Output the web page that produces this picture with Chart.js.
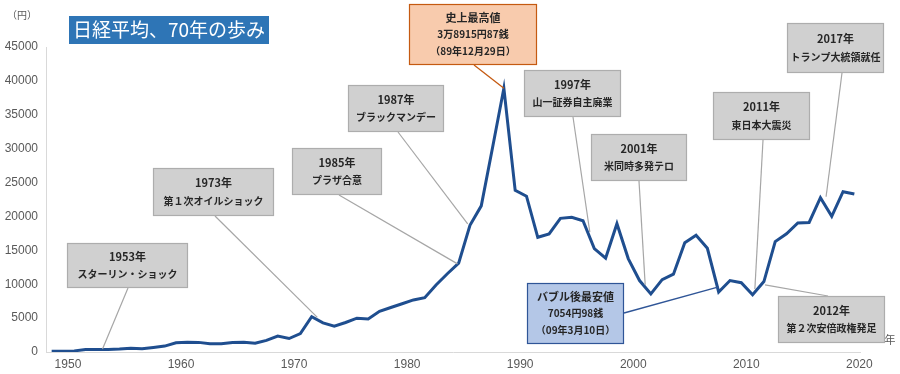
<!DOCTYPE html>
<html>
<head>
<meta charset="utf-8">
<script src="https://cdn.jsdelivr.net/npm/chart.js@4.4.0/dist/chart.umd.min.js"></script>
<style>
  html, body { margin: 0; padding: 0; background: #fff; }
  #wrap { width: 900px; height: 374px; }
</style>
</head>
<body>
<div id="wrap"><canvas id="myChart" width="900" height="374"></canvas></div>
<script>
// 年末終値（円）
var years = []
for (var yr = 1949; yr <= 2020; yr++) years.push(yr)

var nikkei = [
  109, 102, 166, 362, 377, 356, 425, 549, 474, 666,
  874, 1356, 1432, 1420, 1225, 1216, 1417, 1430, 1283, 1714,
  2358, 1987, 2713, 5207, 4306, 3817, 4358, 4990, 4865, 6001,
  6569, 7116, 7681, 8016, 9893, 11542, 13113, 18701, 21564, 30159,
  38915, 23848, 22983, 16924, 17417, 19723, 19868, 19361, 15258, 13842,
  18934, 13785, 10542, 8578, 10676, 11488, 16111, 17225, 15307, 8859,
  10546, 10228, 8455, 10395, 16291, 17450, 19033, 19114, 22764, 20014,
  23656, 23300
]

var xTicks = [1950, 1960, 1970, 1980, 1990, 2000, 2010, 2020]
var yTicks = [0, 5000, 10000, 15000, 20000, 25000, 30000, 35000, 40000, 45000]

var titleText = '日経平均、70年の歩み'

// 吹き出し: 文字, 箱(x,y,w,h), 引き出し線の始点, 指す先(年, 円)
var callouts = [
  { lines: ['1953年', 'スターリン・ショック'], box: [67, 243, 121, 45], from: [128, 288], at: [1953.5, 450] },
  { lines: ['1973年', '第１次オイルショック'], box: [153, 168, 121, 48], from: [215, 216], at: [1972.5, 5100] },
  { lines: ['1985年', 'プラザ合意'], box: [292, 148, 90, 47], from: [339, 195], at: [1984.9, 13000] },
  { lines: ['1987年', 'ブラックマンデー'], box: [348, 85, 96, 47], from: [398, 132], at: [1985.8, 18900] },
  { lines: ['1997年', '山一証券自主廃業'], box: [524, 70, 97, 47], from: [573, 117], at: [1996.6, 17700] },
  { lines: ['2001年', '米同時多発テロ'], box: [591, 134, 96, 47], from: [639, 181], at: [2001.5, 9900] },
  { lines: ['2011年', '東日本大震災'], box: [713, 92, 97, 48], from: [763, 140], at: [2011.2, 9300] },
  { lines: ['2017年', 'トランプ大統領就任'], box: [787, 23, 97, 50], from: [842, 73], at: [2017.5, 22900] },
  { lines: ['2012年', '第２次安倍政権発足'], box: [778, 296, 107, 47], from: [828, 296], at: [2012.1, 9900] },
  { lines: ['史上最高値', '3万8915円87銭', '（89年12月29日）'], box: [409, 4, 128, 61], from: [474, 65], at: [1989, 38915],
    fill: '#F8CBAD', stroke: '#C55A11', leader: '#C55A11' },
  { lines: ['バブル後最安値', '7054円98銭', '（09年3月10日）'], box: [527, 283, 97, 61], from: [624, 313], at: [2008, 9600],
    fill: '#B4C7E7', stroke: '#2F5597', leader: '#2F5597' }
]

var jp = '"Noto Sans CJK JP", "Noto Sans", sans-serif'

var decorations = {
  id: 'decorations',
  afterDatasetsDraw: function (chart) {
    var ctx = chart.ctx
    var xs = chart.scales.x
    var ys = chart.scales.y
    ctx.save()

    // title
    ctx.fillStyle = '#2E75B6'
    ctx.fillRect(69, 16, 200, 28)
    ctx.fillStyle = '#fff'
    ctx.font = '19px ' + jp
    ctx.textBaseline = 'middle'
    ctx.textAlign = 'left'
    ctx.fillText(titleText, 73, 30)

    // leaders
    callouts.forEach(function (c) {
      ctx.beginPath()
      ctx.strokeStyle = c.leader || '#A6A6A6'
      ctx.lineWidth = c.leader ? 1.3 : 1.2
      ctx.moveTo(c.from[0], c.from[1])
      ctx.lineTo(xs.getPixelForValue(c.at[0]), ys.getPixelForValue(c.at[1]))
      ctx.stroke()
    })

    // boxes
    callouts.forEach(function (c) {
      var b = c.box
      ctx.fillStyle = c.fill || '#D0D0D0'
      ctx.fillRect(b[0], b[1], b[2], b[3])
      ctx.strokeStyle = c.stroke || '#ADADAD'
      ctx.lineWidth = 1.2
      ctx.strokeRect(b[0] + 0.5, b[1] + 0.5, b[2] - 1, b[3] - 1)
      ctx.fillStyle = '#262626'
      ctx.textAlign = 'center'
      ctx.textBaseline = 'middle'
      var cx = b[0] + b[2] / 2
      var n = c.lines.length
      var step = n === 3 ? 17 : 17.5
      var top = b[1] + b[3] / 2 - step * (n - 1) / 2
      c.lines.forEach(function (t, i) {
        ctx.font = (i === 0 ? 'bold 11px ' : 'bold 10px ') + jp
        ctx.fillText(t, cx, top + i * step)
      })
    })

    // unit labels
    ctx.fillStyle = '#595959'
    ctx.textAlign = 'center'
    ctx.textBaseline = 'middle'
    ctx.font = '10px ' + jp
    ctx.fillText('（円）', 22, 15)
    ctx.font = '11px ' + jp
    ctx.fillText('年', 890, 340)
    ctx.restore()
  }
}

new Chart(document.getElementById('myChart'), {
  type: 'line',
  data: {
    datasets: [{
      data: years.map(function (y, i) { return { x: y, y: nikkei[i] } }),
      borderColor: '#1F4E8F',
      borderWidth: 3,
      pointRadius: 0,
      tension: 0,
      fill: false
    }]
  },
  options: {
    responsive: false,
    animation: false,
    layout: { padding: { left: 0, right: 40, top: 47, bottom: 0 } },
    plugins: { legend: { display: false }, tooltip: { enabled: false } },
    scales: {
      x: {
        type: 'linear',
        min: 1948.5,
        max: 2020.5,
        afterBuildTicks: function (s) { s.ticks = xTicks.map(function (v) { return { value: v } }) },
        afterFit: function (s) { s.height = 22 },
        grid: { display: false, drawTicks: false },
        border: { color: '#D9D9D9' },
        ticks: {
          autoSkip: false, maxRotation: 0, padding: 5, labelOffset: 5,
          color: '#595959', font: { family: 'Liberation Sans', size: 12 },
          callback: function (v) { return String(v) }
        }
      },
      y: {
        min: 0,
        max: 45000,
        afterBuildTicks: function (s) { s.ticks = yTicks.map(function (v) { return { value: v } }) },
        afterFit: function (s) { s.width = 46 },
        grid: { display: false, drawTicks: false },
        border: { color: '#D9D9D9' },
        ticks: {
          padding: 8,
          color: '#595959', font: { family: 'Liberation Sans', size: 12 },
          callback: function (v) { return String(v) }
        }
      }
    }
  },
  plugins: [decorations]
})
</script>
</body>
</html>
